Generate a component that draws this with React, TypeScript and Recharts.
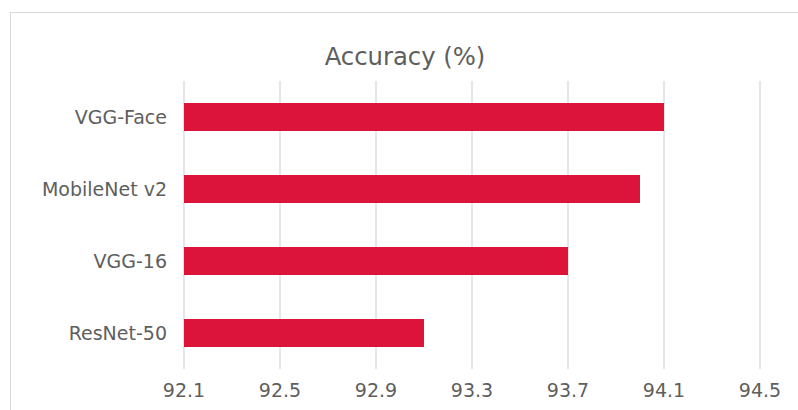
import React from "react";
import { BarChart, Bar, XAxis, YAxis, CartesianGrid } from "recharts";

const models = ["VGG-Face", "MobileNet v2", "VGG-16", "ResNet-50"];
const accuracy = [94.1, 94.0, 93.7, 93.1];
const xTicks = [92.1, 92.5, 92.9, 93.3, 93.7, 94.1, 94.5];
const title = "Accuracy (%)";

const data = models.map((m, i) => ({ name: m, value: accuracy[i] }));

const FONT = "'DejaVu Sans', sans-serif";
const GRAY = "#5e5e5e";

export default function App() {
  return (
    <div style={{ position: "absolute", left: 0, top: 0, width: 798, height: 410, overflow: "hidden", background: "#fff" }}>
      <div
        style={{
          position: "absolute",
          left: 10,
          top: 12,
          width: 820,
          height: 430,
          border: "1.5px solid #d9d9d9",
          boxSizing: "border-box",
        }}
      />
      <div
        style={{
          position: "absolute",
          left: 405,
          top: 45,
          transform: "translateX(-50%)",
          fontFamily: FONT,
          fontSize: 24.3,
          lineHeight: "24px",
          color: GRAY,
          whiteSpace: "nowrap",
        }}
      >
        {title}
      </div>
      <div style={{ position: "absolute", left: 0, top: 0 }}>
        <BarChart
          width={798}
          height={410}
          data={data}
          layout="vertical"
          margin={{ top: 81, right: 38, bottom: 0, left: 0 }}
          barSize={28}
        >
          <CartesianGrid horizontal={false} vertical={true} stroke="#d9d9d9" strokeWidth={1.3} />
          <XAxis
            type="number"
            domain={[92.1, 94.5]}
            ticks={xTicks}
            allowDataOverflow
            axisLine={false}
            tickLine={false}
            tickSize={0}
            tickMargin={15}
            height={41}
            interval={0}
            tickFormatter={(v: number) => v.toFixed(1)}
            tick={{ fill: GRAY, fontSize: 19, fontFamily: FONT }}
          />
          <YAxis
            type="category"
            dataKey="name"
            width={184}
            axisLine={false}
            tickLine={false}
            tickSize={0}
            tickMargin={17}
            interval={0}
            tick={{ fill: GRAY, fontSize: 19, fontFamily: FONT }}
          />
          <Bar dataKey="value" fill="#DC143C" isAnimationActive={false} />
        </BarChart>
      </div>
    </div>
  );
}
